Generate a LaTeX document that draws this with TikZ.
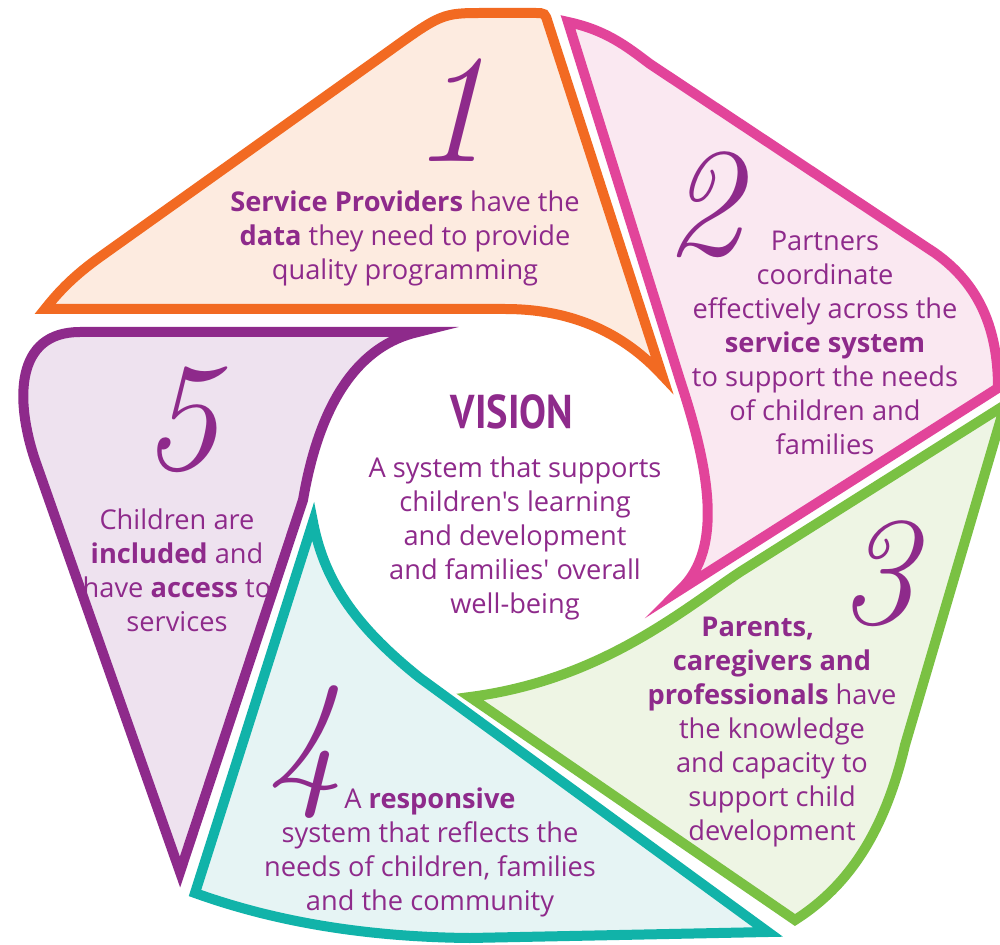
\documentclass[tikz,border=0pt]{standalone}
\usepackage{fontspec}
\usepackage{graphicx}
\usepackage{tikz}
\usetikzlibrary{shapes,calc}
\newfontfamily\opensans{Open Sans}
\newfontfamily\ptsans{PT Sans}
\definecolor{vpurple}{HTML}{8E2A8B}
\definecolor{orangeline}{HTML}{F26A22}
\definecolor{orangefill}{HTML}{FDEBE0}
\definecolor{pinkline}{HTML}{E2449A}
\definecolor{pinkfill}{HTML}{FAE8F1}
\definecolor{greenline}{HTML}{7AC143}
\definecolor{greenfill}{HTML}{EEF5E4}
\definecolor{tealline}{HTML}{11B3A9}
\definecolor{tealfill}{HTML}{E6F4F4}
\definecolor{purpleline}{HTML}{8E2A8B}
\definecolor{purplefill}{HTML}{EEE2EF}

\begin{document}
\begin{tikzpicture}[x=0.02cm,y=-0.02cm]
			\tikzstyle{petal}=[line width=0.2cm]
			\tikzstyle{txt}=[text=vpurple, align=center, inner sep=0pt, font=\opensans\fontsize{15.5}{19.35}\selectfont]
			\tikzstyle{num}=[text=vpurple, inner sep=0pt, font=\rmfamily\itshape\fontsize{88}{88}\selectfont]
			\useasboundingbox (0,0) rectangle (1000,945);
			\fill[white] (0,0) rectangle (1000,945);
			\clip (0,0) rectangle (1000,945);
			% petals, clockwise from the top
			\draw[petal, draw=orangeline, fill=orangefill] (505,309) -- (45,309) .. controls (60,290) and (75,275) .. (100,257)
				-- (385,54) .. controls (442,13) .. (485,13) -- (535,13) .. controls (545,13) .. (548,23)
				-- (662,375) .. controls (625,335) and (575,309) .. (505,309) -- cycle;
			\draw[petal, draw=pinkline, fill=pinkfill] (568,22) .. controls (605,30) and (625,45) .. (650,64)
				-- (935,253) .. controls (980,285) and (998,330) .. (998,388)
				-- (680,590) .. controls (725,548) and (708,465) .. (680,380) -- cycle;
			\draw[petal, draw=greenline, fill=greenfill] (1005,405) -- (905,745) .. controls (885,830) and (850,885) .. (795,920)
				-- (470,697) .. controls (600,680) and (680,612) .. (740,572) -- cycle;
			\draw[petal, draw=tealline, fill=tealfill] (313,522) .. controls (325,585) and (360,630) .. (420,678)
				-- (768,932) -- (470,938) .. controls (360,937) and (270,920) .. (195,893) -- cycle;
			\draw[petal, draw=purpleline, fill=purplefill] (418,332) -- (80,332) .. controls (15,332) and (15,400) .. (35,460)
				-- (180,872) -- (303,500) .. controls (320,400) and (360,345) .. (418,332) -- cycle;
			% numbers
			\node[num] (one) at (450,110) {1};
			\node[num] (two) at (703,205) {2};
			\node[num] (three) at (877,574) {3};
			\node[num] (four) at (305,752) {4};
			\node[num] (five) at (180,420) {5};
			% texts
			\node[txt] (txtone) at (405,238) {\textbf{Service Providers} have the\\ \textbf{data} they need to provide\\ quality programming};
			\node[txt] (txttwo) at (825,343) {Partners\\ coordinate\\ effectively across the\\ \textbf{service system}\\ to support the needs\\ of children and\\ families};
			\node[txt] (txtthree) at (772,732) {\textbf{Parents,}\phantom{xx}\\ \textbf{caregivers and}\\ \textbf{professionals} have\\ the knowledge\\ and capacity to\\ support child\\ development};
			\node[txt] (txtfour) at (430,852) {A \textbf{responsive}\\ system that reflects the\\ needs of children, families\\ and the community};
			\node[txt] (txtfive) at (177,570) {Children are\\ \textbf{included} and\\ have \textbf{access} to\\ services};
			\node[txt, font=\ptsans\bfseries\fontsize{27}{27}\selectfont] (vision) at (512,412) {\scalebox{0.85}[1]{VISION}};
			\node[txt] (vistxt) at (515,538) {A system that supports\\ children's learning\\ and development\\ and families' overall\\ well-being};
		\end{tikzpicture}
\end{document}
